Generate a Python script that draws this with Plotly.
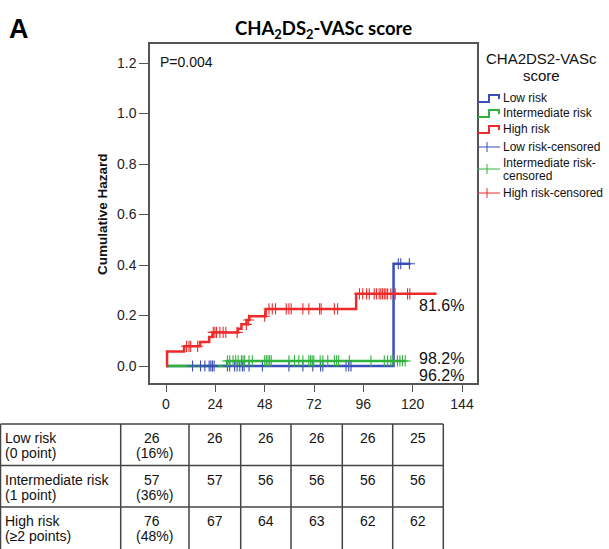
import numpy as np
import plotly.graph_objects as go

W, H = 609, 549

# ---------------- data ----------------
groups = ["Low risk", "Intermediate risk", "High risk"]
colors = ["#3a4db8", "#2fb33c", "#ee2a2a"]

# step curves (time in months, cumulative hazard)
low_t = [0, 110.7, 119.0]
low_h = [0.0, 0.405, 0.405]
mid_t = [0, 29.8, 116.4]
mid_h = [0.0, 0.02, 0.02]
high_t = [0, 0.5, 8.8, 16.6, 21.0, 22.6, 35.0, 36.7, 39.2, 40.6, 48.5, 92.5, 131.6]
high_h = [0.0, 0.057, 0.078, 0.095, 0.115, 0.133, 0.148, 0.165, 0.182, 0.197, 0.226, 0.286, 0.286]

# censored observation times
low_c = [12.9, 16.8, 18.9, 21.0, 21.8, 22.6, 23.4, 29.9, 31.0, 33.4, 34.6, 35.9, 37.2, 38.0,
         40.4, 46.9, 59.8, 66.6, 71.4, 75.2, 76.3, 87.6, 88.9, 90.0, 113.0, 114.2, 118.4]
mid_c = [29.9, 31.0, 32.6, 33.9, 35.1, 36.7, 37.5, 38.3, 40.4, 42.0, 48.0, 48.8, 49.6, 50.4,
         51.2, 59.8, 62.5, 64.6, 66.6, 69.5, 70.3, 71.1, 71.9, 75.0, 76.3, 78.7, 81.9, 83.0,
         84.0, 89.2, 99.7, 106.2, 107.8, 109.4, 110.5, 112.6, 113.8, 115.1, 116.4]
high_c = [10.0, 11.2, 12.0, 15.4, 23.0, 23.8, 24.6, 26.2, 27.8, 29.1, 34.6, 39.1, 40.2, 48.0,
          50.1, 51.7, 53.3, 58.5, 59.8, 60.9, 66.6, 69.5, 74.7, 75.5, 81.9, 83.5, 94.1, 95.7,
          97.6, 98.9, 101.3, 102.4, 103.7, 104.5, 105.3, 106.2, 107.0, 107.8, 109.4, 111.5,
          117.5, 118.6]

end_labels = ["96.2%", "98.2%", "81.6%"]
p_text = "P=0.004"

x_ticks = [0, 24, 48, 72, 96, 120, 144]
y_ticks = [0.0, 0.2, 0.4, 0.6, 0.8, 1.0, 1.2]

legend_title = ["CHA2DS2-VASc", "score"]
legend_lines = [["Low risk"], ["Intermediate risk"], ["High risk"]]
legend_cens = [["Low risk-censored"], ["Intermediate risk-", "censored"], ["High risk-censored"]]

row_names = ["Low risk", "Intermediate risk", "High risk"]
row_sub = ["(0 point)", "(1 point)", "(\u22652 points)"]
base_n = [26, 57, 76]
base_pct = ["(16%)", "(36%)", "(48%)"]
at_risk = [[26, 26, 26, 26, 25],
           [57, 56, 56, 56, 56],
           [67, 64, 63, 62, 62]]

# ---------------- helpers ----------------
def px(x):
    return x / W

def py(y):
    return 1 - y / H

def step_at(ts, hs, t):
    i = np.searchsorted(np.array(ts), np.array(t), side="right") - 1
    return np.array(hs)[i]

curves = [(low_t, low_h, low_c), (mid_t, mid_h, mid_c), (high_t, high_h, high_c)]

fig = go.Figure()
for name, col, (t, h, c) in zip(groups, colors, curves):
    fig.add_trace(go.Scatter(x=t, y=h, mode="lines", name=name, showlegend=False,
                             line=dict(color=col, width=2.5, shape="hv")))
for name, col, (t, h, c) in zip(groups, colors, curves):
    fig.add_trace(go.Scatter(x=c, y=step_at(t, h, c), mode="markers", name=name + "-censored",
                             showlegend=False,
                             marker=dict(symbol="cross-thin", size=8,
                                         color=col, line=dict(width=1.1, color=col))))

font_main = "Liberation Sans, Arial, sans-serif"
ax_col = "#555555"
txt_col = "#111111"

# plot frame in pixels
L, R, T, B = 150, 477, 44, 383
x0pix, xscale = 166, 296 / 144
y0pix, yscale = 366, 252.5

fig.update_layout(
    width=W, height=H,
    margin=dict(l=0, r=0, t=0, b=0),
    paper_bgcolor="white", plot_bgcolor="white",
    font=dict(family=font_main, color="#222222", size=14),
    xaxis=dict(domain=[px(L), px(R)],
               range=[(L - x0pix) / xscale, (R - x0pix) / xscale],
               tickvals=x_ticks, ticks="outside", ticklen=7, tickwidth=1.3,
               tickcolor=ax_col, showgrid=False, zeroline=False,
               showline=True, linecolor=ax_col, linewidth=1.5, mirror=True,
               tickfont=dict(size=14), automargin=False),
    yaxis=dict(domain=[py(B), py(T)],
               range=[(y0pix - B) / yscale, (y0pix - T) / yscale],
               tickvals=y_ticks, tickformat=".1f", ticks="outside", ticklen=9,
               tickwidth=1.3, tickcolor=ax_col, showgrid=False, zeroline=False,
               showline=True, linecolor=ax_col, linewidth=1.5, mirror=True,
               tickfont=dict(size=14), automargin=False),
    showlegend=False,
)

ann = []
shapes = []

def text(s, x, y, size=14, anchor="left", **kw):
    d = dict(text=s, x=px(x), y=py(y), xanchor=anchor, yanchor="middle",
             font=dict(size=size, color=kw.pop("color", txt_col), family=kw.pop("family", font_main)))
    d.update(kw)
    ann.append(d)

text("<b>A</b>", 7, 29, size=27, color="black")
text("<b>CHA<sub>2</sub>DS<sub>2</sub>-VASc score</b>", 323, 30, size=18.5, anchor="center",
     family="Lato, sans-serif", color="black")
text("<b>Cumulative Hazard</b>", 102, 214, size=13.5, anchor="center", textangle=-90)
text(p_text, 158, 62, size=14)
for lab, ypix in zip(end_labels, [375, 358, 305]):
    text(lab, 417, ypix, size=16)

# ---------------- legend (SPSS style) ----------------
text(legend_title[0], 541, 59, size=15, anchor="center")
text(legend_title[1], 541, 75, size=15, anchor="center")
for lines, col, yc in zip(legend_lines, colors, [98, 113, 129]):
    shapes.append(dict(type="path", xref="paper", yref="paper",
                       path=f"M {px(478)},{py(yc + 4)} L {px(489)},{py(yc + 4)} L {px(489)},{py(yc - 3)} "
                            f"L {px(499)},{py(yc - 3)} L {px(499)},{py(yc + 1)}",
                       line=dict(color=col, width=2)))
    text(lines[0], 501, yc, size=12)
for lines, col, yc in zip(legend_cens, colors, [147, 169, 193]):
    shapes.append(dict(type="line", xref="paper", yref="paper", x0=px(477), x1=px(500),
                       y0=py(yc), y1=py(yc), line=dict(color=col, width=1)))
    shapes.append(dict(type="line", xref="paper", yref="paper", x0=px(487), x1=px(487),
                       y0=py(yc - 5), y1=py(yc + 5), line=dict(color=col, width=1)))
    if len(lines) == 1:
        text(lines[0], 501, yc, size=12)
    else:
        text(lines[0], 501, yc - 6.5, size=12)
        text(lines[1], 501, yc + 6.5, size=12)

# ---------------- at-risk table ----------------
col_edges = [0.5, 120.7, 189, 240.7, 291, 342.3, 392.7, 443.3]
row_tops = [424, 465.5, 507]
tbl_bottom = 560
lc = "#444444"
for yt in row_tops:
    shapes.append(dict(type="line", xref="paper", yref="paper", x0=px(col_edges[0]), x1=px(col_edges[-1]),
                       y0=py(yt), y1=py(yt), line=dict(color=lc, width=1.5)))
for xe in col_edges:
    shapes.append(dict(type="line", xref="paper", yref="paper", x0=px(xe), x1=px(xe),
                       y0=py(row_tops[0]), y1=py(tbl_bottom), line=dict(color=lc, width=1.5)))

for r in range(3):
    y1 = row_tops[r] + 14
    y2 = row_tops[r] + 29
    text(row_names[r], 3, y1)
    text(row_sub[r], 3, y2)
    cx = (col_edges[1] + col_edges[2]) / 2
    text(str(base_n[r]), cx - 3, y1, anchor="center")
    text(base_pct[r], cx, y2, anchor="center")
    for k, v in enumerate(at_risk[r]):
        cx = (col_edges[k + 2] + col_edges[k + 3]) / 2
        text(str(v), cx, y1, anchor="center")

for a in ann:
    a.setdefault("xref", "paper")
    a.setdefault("yref", "paper")
    a.setdefault("showarrow", False)
fig.update_layout(annotations=ann, shapes=shapes)

fig.write_html("out.html", config={"displayModeBar": False},
               post_script="document.body.style.margin='0';")
